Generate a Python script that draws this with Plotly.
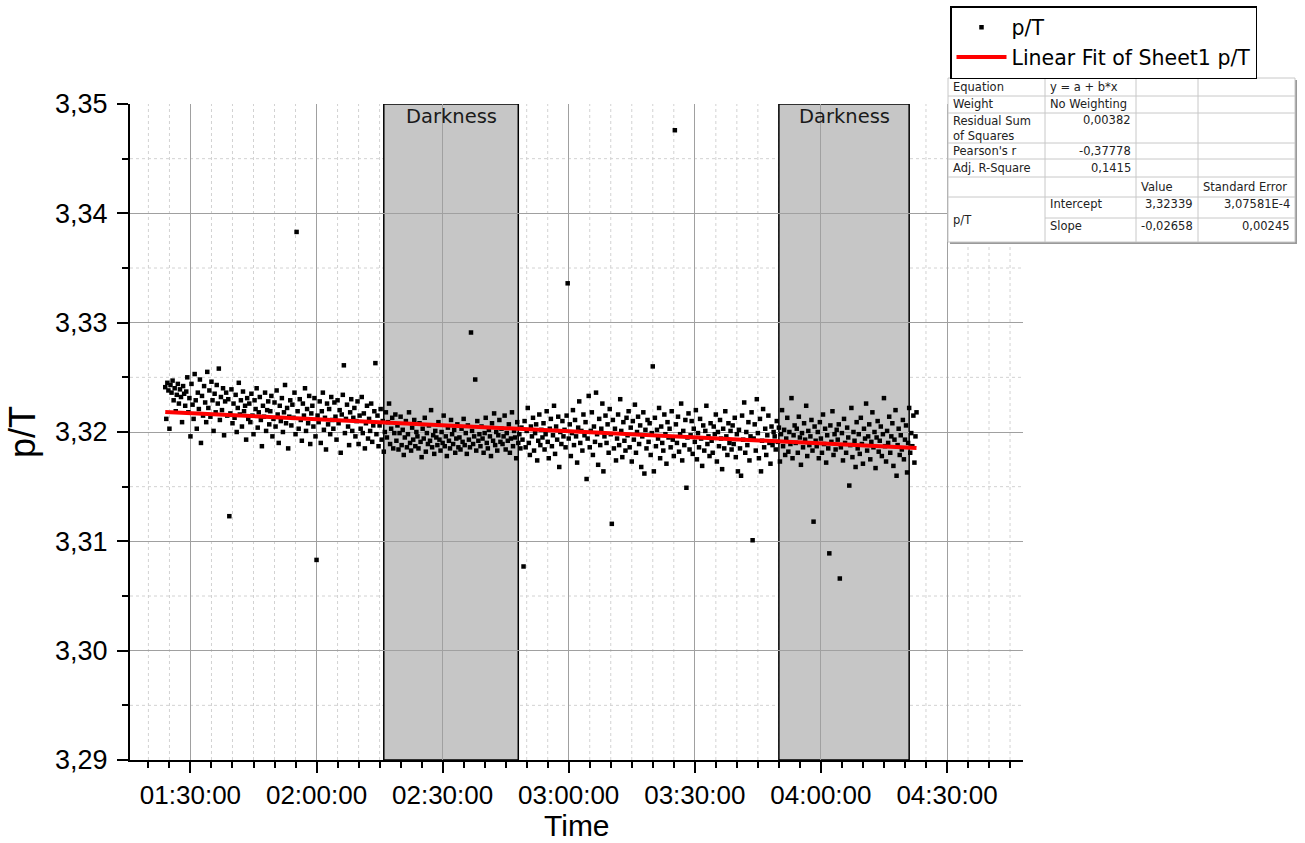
import pandas as pd
import plotly.graph_objects as go

# ---------------- data ----------------
START_TIME = "2000-01-01 01:24:00"
SAMPLE_INTERVAL = "15s"

p_over_T = [
    3.3241, 3.3212, 3.3245, 3.3238, 3.3203, 3.3243, 3.3236, 3.3247, 3.3229, 3.3240, 3.3219, 3.3234, 3.3244, 3.3226, 3.3239, 3.3232, 3.3209, 3.3242, 3.3235, 3.3224,
    3.3237, 3.3250, 3.3218, 3.3231, 3.3196, 3.3244, 3.3225, 3.3212, 3.3253, 3.3229, 3.3203, 3.3236, 3.3221, 3.3248, 3.3190, 3.3233, 3.3215, 3.3242, 3.3227, 3.3209,
    3.3255, 3.3222, 3.3238, 3.3214, 3.3246, 3.3229, 3.3201, 3.3235, 3.3218, 3.3243, 3.3226, 3.3258, 3.3211, 3.3232, 3.3220, 3.3240, 3.3197, 3.3228, 3.3236, 3.3215,
    3.3230, 3.3123, 3.3217, 3.3239, 3.3208, 3.3226, 3.3213, 3.3234, 3.3200, 3.3222, 3.3245, 3.3216, 3.3229, 3.3205, 3.3237, 3.3219, 3.3224, 3.3193, 3.3231, 3.3212,
    3.3226, 3.3209, 3.3235, 3.3215, 3.3198, 3.3229, 3.3221, 3.3240, 3.3204, 3.3218, 3.3232, 3.3211, 3.3187, 3.3224, 3.3214, 3.3236, 3.3201, 3.3220, 3.3228, 3.3207,
    3.3219, 3.3233, 3.3196, 3.3212, 3.3227, 3.3205, 3.3238, 3.3216, 3.3190, 3.3224, 3.3210, 3.3231, 3.3200, 3.3218, 3.3243, 3.3208, 3.3222, 3.3185, 3.3214, 3.3229,
    3.3206, 3.3225, 3.3213, 3.3236, 3.3198, 3.3383, 3.3219, 3.3203, 3.3230, 3.3211, 3.3192, 3.3226, 3.3215, 3.3240, 3.3201, 3.3221, 3.3208, 3.3233, 3.3189, 3.3217,
    3.3224, 3.3205, 3.3231, 3.3196, 3.3083, 3.3215, 3.3209, 3.3228, 3.3190, 3.3219, 3.3236, 3.3202, 3.3213, 3.3184, 3.3226, 3.3207, 3.3221, 3.3198, 3.3232, 3.3211,
    3.3203, 3.3227, 3.3214, 3.3193, 3.3229, 3.3208, 3.3220, 3.3181, 3.3216, 3.3234, 3.3261, 3.3199, 3.3212, 3.3225, 3.3205, 3.3188, 3.3218, 3.3230, 3.3201, 3.3213,
    3.3222, 3.3196, 3.3210, 3.3228, 3.3189, 3.3215, 3.3203, 3.3232, 3.3199, 3.3217, 3.3185, 3.3208, 3.3224, 3.3194, 3.3212, 3.3201, 3.3226, 3.3191, 3.3206, 3.3219,
    3.3263, 3.3198, 3.3215, 3.3187, 3.3206, 3.3221, 3.3193, 3.3210, 3.3182, 3.3200, 3.3218, 3.3195, 3.3209, 3.3226, 3.3189, 3.3203, 3.3213, 3.3185, 3.3199, 3.3216,
    3.3192, 3.3206, 3.3184, 3.3199, 3.3214, 3.3188, 3.3202, 3.3179, 3.3195, 3.3210, 3.3186, 3.3198, 3.3218, 3.3190, 3.3183, 3.3204, 3.3193, 3.3211, 3.3187, 3.3200,
    3.3196, 3.3185, 3.3208, 3.3191, 3.3177, 3.3203, 3.3194, 3.3213, 3.3182, 3.3199, 3.3189, 3.3206, 3.3192, 3.3220, 3.3186, 3.3197, 3.3180, 3.3201, 3.3195, 3.3188,
    3.3209, 3.3193, 3.3183, 3.3200, 3.3190, 3.3215, 3.3187, 3.3196, 3.3178, 3.3204, 3.3192, 3.3185, 3.3211, 3.3198, 3.3189, 3.3202, 3.3181, 3.3194, 3.3207, 3.3186,
    3.3195, 3.3184, 3.3203, 3.3191, 3.3212, 3.3188, 3.3199, 3.3180, 3.3206, 3.3193, 3.3186, 3.3291, 3.3201, 3.3189, 3.3196, 3.3248, 3.3183, 3.3210, 3.3192, 3.3198,
    3.3187, 3.3205, 3.3194, 3.3181, 3.3199, 3.3213, 3.3190, 3.3185, 3.3202, 3.3196, 3.3178, 3.3208, 3.3192, 3.3217, 3.3188, 3.3200, 3.3183, 3.3197, 3.3211, 3.3191,
    3.3203, 3.3189, 3.3196, 3.3215, 3.3184, 3.3199, 3.3192, 3.3207, 3.3181, 3.3194, 3.3218, 3.3187, 3.3201, 3.3195, 3.3176, 3.3209, 3.3190, 3.3198, 3.3185, 3.3204,
    3.3193, 3.3077, 3.3210, 3.3186, 3.3201, 3.3222, 3.3190, 3.3179, 3.3205, 3.3196, 3.3213, 3.3183, 3.3199, 3.3207, 3.3174, 3.3192, 3.3216, 3.3188, 3.3202, 3.3195,
    3.3208, 3.3184, 3.3198, 3.3219, 3.3191, 3.3176, 3.3203, 3.3212, 3.3187, 3.3197, 3.3224, 3.3180, 3.3205, 3.3193, 3.3214, 3.3168, 3.3200, 3.3189, 3.3210, 3.3196,
    3.3202, 3.3186, 3.3215, 3.3336, 3.3194, 3.3207, 3.3178, 3.3199, 3.3220, 3.3188, 3.3211, 3.3196, 3.3172, 3.3204, 3.3228, 3.3190, 3.3201, 3.3183, 3.3216, 3.3197,
    3.3209, 3.3157, 3.3194, 3.3233, 3.3186, 3.3201, 3.3218, 3.3179, 3.3205, 3.3191, 3.3236, 3.3198, 3.3170, 3.3212, 3.3188, 3.3203, 3.3226, 3.3164, 3.3196, 3.3215,
    3.3190, 3.3207, 3.3181, 3.3221, 3.3198, 3.3116, 3.3211, 3.3185, 3.3203, 3.3174, 3.3194, 3.3216, 3.3188, 3.3230, 3.3201, 3.3177, 3.3209, 3.3192, 3.3183, 3.3213,
    3.3197, 3.3219, 3.3186, 3.3204, 3.3173, 3.3210, 3.3193, 3.3225, 3.3181, 3.3200, 3.3214, 3.3189, 3.3206, 3.3168, 3.3196, 3.3218, 3.3162, 3.3202, 3.3185, 3.3211,
    3.3191, 3.3208, 3.3179, 3.3199, 3.3260, 3.3164, 3.3213, 3.3187, 3.3202, 3.3194, 3.3222, 3.3176, 3.3205, 3.3190, 3.3183, 3.3216, 3.3198, 3.3171, 3.3209, 3.3195,
    3.3203, 3.3186, 3.3219, 3.3193, 3.3178, 3.3476, 3.3207, 3.3190, 3.3214, 3.3182, 3.3198, 3.3226, 3.3174, 3.3201, 3.3188, 3.3211, 3.3149, 3.3195, 3.3217, 3.3184,
    3.3197, 3.3210, 3.3180, 3.3203, 3.3191, 3.3220, 3.3175, 3.3199, 3.3186, 3.3212, 3.3194, 3.3169, 3.3206, 3.3183, 3.3201, 3.3224, 3.3189, 3.3196, 3.3178, 3.3208,
    3.3192, 3.3181, 3.3205, 3.3198, 3.3216, 3.3173, 3.3200, 3.3187, 3.3211, 3.3194, 3.3166, 3.3203, 3.3185, 3.3219, 3.3196, 3.3179, 3.3208, 3.3190, 3.3201, 3.3184,
    3.3206, 3.3189, 3.3213, 3.3177, 3.3198, 3.3164, 3.3202, 3.3185, 3.3160, 3.3215, 3.3193, 3.3227, 3.3181, 3.3200, 3.3188, 3.3209, 3.3174, 3.3196, 3.3218, 3.3101,
    3.3194, 3.3207, 3.3183, 3.3230, 3.3199, 3.3176, 3.3212, 3.3164, 3.3192, 3.3221, 3.3186, 3.3203, 3.3179, 3.3197, 3.3215, 3.3190, 3.3171, 3.3205, 3.3188, 3.3200,
    3.3196, 3.3184, 3.3210, 3.3191, 3.3204, 3.3173, 3.3198, 3.3220, 3.3187, 3.3202, 3.3179, 3.3194, 3.3213, 3.3182, 3.3200, 3.3189, 3.3231, 3.3176, 3.3197, 3.3206,
    3.3190, 3.3203, 3.3181, 3.3214, 3.3195, 3.3170, 3.3199, 3.3186, 3.3208, 3.3193, 3.3224, 3.3178, 3.3201, 3.3188, 3.3196, 3.3211, 3.3183, 3.3118, 3.3205, 3.3192,
    3.3187, 3.3200, 3.3176, 3.3209, 3.3194, 3.3181, 3.3216, 3.3189, 3.3203, 3.3172, 3.3197, 3.3185, 3.3089, 3.3206, 3.3191, 3.3219, 3.3179, 3.3198, 3.3184, 3.3202,
    3.3193, 3.3207, 3.3066, 3.3186, 3.3199, 3.3174, 3.3212, 3.3190, 3.3181, 3.3204, 3.3195, 3.3151, 3.3188, 3.3222, 3.3177, 3.3200, 3.3192, 3.3168, 3.3209, 3.3185,
    3.3198, 3.3180, 3.3213, 3.3189, 3.3171, 3.3203, 3.3194, 3.3226, 3.3183, 3.3196, 3.3207, 3.3175, 3.3191, 3.3218, 3.3186, 3.3200, 3.3167, 3.3195, 3.3210, 3.3182,
    3.3192, 3.3205, 3.3178, 3.3198, 3.3231, 3.3187, 3.3173, 3.3201, 3.3190, 3.3214, 3.3181, 3.3196, 3.3208, 3.3169, 3.3193, 3.3220, 3.3160, 3.3188, 3.3203, 3.3179,
    3.3197, 3.3184, 3.3211, 3.3175, 3.3193, 3.3206, 3.3163, 3.3190, 3.3222, 3.3181, 3.3199, 3.3187, 3.3215, 3.3172, 3.3196, 3.3218,
]

# linear fit results (time in days)
FIT_INTERCEPT = 3.32339
FIT_SLOPE = -0.02658

darkness_starts = ["2000-01-01 02:16:00", "2000-01-01 03:50:00"]
darkness_ends = ["2000-01-01 02:48:00", "2000-01-01 04:21:00"]
darkness_label = "Darkness"

x_range = ["2000-01-01 01:15:37", "2000-01-01 04:48:05"]
y_range = [3.29, 3.35]
x_title = "Time"
y_title = "p/T"

table_rows = [
    ["Equation", "y = a + b*x", "", ""],
    ["Weight", "No Weighting", "", ""],
    ["Residual Sum<br>of Squares", "0,00382", "", ""],
    ["Pearson's r", "-0,37778", "", ""],
    ["Adj. R-Square", "0,1415", "", ""],
    ["", "", "Value", "Standard Error"],
    ["p/T", "Intercept", "3,32339", "3,07581E-4"],
    ["", "Slope", "-0,02658", "0,00245"],
]

# ---------------- figure ----------------
times = pd.date_range(start=START_TIME, periods=len(p_over_T), freq=SAMPLE_INTERVAL)
midnight = times[0].normalize()
fit_x = [times[0], times[-1]]
fit_y = [FIT_INTERCEPT + FIT_SLOPE * ((t - midnight).total_seconds() / 86400.0) for t in fit_x]

W, H = 1305, 843
PL, PR, PT, PB = 130, 1023, 104, 760


def px(x):
    return (x - PL) / (PR - PL)


def py(y):
    return (PB - y) / (PB - PT)


fig = go.Figure()
fig.add_trace(go.Scatter(
    x=times, y=p_over_T, mode="markers", name="p/T",
    marker=dict(symbol="square", size=4.5, color="black", line=dict(width=0)),
))
fig.add_trace(go.Scatter(
    x=fit_x, y=fit_y, mode="lines", name="Linear Fit of Sheet1 p/T",
    line=dict(color="#ff0000", width=4),
))

shapes = []
# minor (dashed) grid lines, drawn below the darkness boxes
x0 = pd.Timestamp(x_range[0])
x1 = pd.Timestamp(x_range[1])
t = x0.ceil("5min")
while t <= x1:
    if t.minute % 30 != 0:
        shapes.append(dict(type="line", xref="x", yref="paper", x0=t, x1=t, y0=0, y1=1,
                           line=dict(color="#d2d2d2", width=1, dash="3px,3px"), layer="below"))
    t += pd.Timedelta(minutes=5)
for k in range(6):
    yv = y_range[0] + 0.005 + 0.01 * k
    shapes.append(dict(type="line", xref="paper", yref="y", x0=0, x1=1, y0=yv, y1=yv,
                       line=dict(color="#d2d2d2", width=1, dash="3px,3px"), layer="below"))

annotations = []
for s, e in zip(darkness_starts, darkness_ends):
    shapes.append(dict(type="rect", xref="x", yref="y", x0=s, x1=e, y0=y_range[0], y1=y_range[1],
                       fillcolor="#c6c6c6", line=dict(color="black", width=1.5), layer="below"))
    mid = pd.Timestamp(s) + (pd.Timestamp(e) - pd.Timestamp(s)) / 2
    annotations.append(dict(x=mid, y=py(116), xref="x", yref="paper", text=darkness_label,
                            showarrow=False, xanchor="center", yanchor="middle",
                            font=dict(family="DejaVu Sans", size=19.5, color="#1a1a1a")))

# x-axis title, placed as in the original
annotations.append(dict(x=0.5, y=py(843), xref="paper", yref="paper", text=x_title,
                        showarrow=False, xanchor="center", yanchor="bottom", borderpad=0,
                        font=dict(family="Liberation Sans, Arial, sans-serif", size=30, color="black")))

# fit results table
cols = [948, 1045, 1136, 1198, 1295]
rows = [78, 96, 113, 143, 159, 177, 197, 218, 242]
TC = "#c8c8c8"
shapes.append(dict(type="rect", xref="paper", yref="paper", x0=px(cols[0] + 2), x1=px(cols[-1] + 2),
                   y0=py(rows[-1] + 2), y1=py(rows[0] + 2), fillcolor="#9a9a9a", line=dict(width=0)))
shapes.append(dict(type="rect", xref="paper", yref="paper", x0=px(cols[0]), x1=px(cols[-1]),
                   y0=py(rows[-1]), y1=py(rows[0]), fillcolor="white", line=dict(color=TC, width=1)))
for r in rows[1:-1]:
    xs = cols[1] if r == 218 else cols[0]
    shapes.append(dict(type="line", xref="paper", yref="paper", x0=px(xs), x1=px(cols[-1]),
                       y0=py(r), y1=py(r), line=dict(color=TC, width=1)))
for c in cols[1:-1]:
    shapes.append(dict(type="line", xref="paper", yref="paper", x0=px(c), x1=px(c),
                       y0=py(rows[0]), y1=py(rows[-1]), line=dict(color=TC, width=1)))

tfont = dict(family="DejaVu Sans", size=11.5, color="#222222")
row_y = [87, 104.5, 120, 151, 168, 186.5, 207.5, 229.5]
for ri, row in enumerate(table_rows):
    for ci, txt in enumerate(row):
        if not txt:
            continue
        yc = row_y[ri]
        if ri == 2 and ci == 0:
            yc = 128
        if ri == 6 and ci == 0:
            yc = 220
        if ri == 6 and ci > 0:
            yc = 204
        if ri == 7:
            yc = 226
        numeric = (ci == 1 and ri in (2, 3, 4)) or (ci >= 2 and ri >= 6)
        if numeric:
            xa, xx = "right", cols[ci + 1] - 3
        else:
            xa, xx = "left", cols[ci] + 3
        annotations.append(dict(x=px(xx), y=py(yc), xref="paper", yref="paper", text=txt,
                                showarrow=False, xanchor=xa, yanchor="middle", align="left",
                                font=tfont))

axis_font = dict(family="Liberation Sans, Arial, sans-serif", size=27, color="black")
fig.update_layout(
    width=W, height=H,
    margin=dict(l=PL, r=W - PR, t=PT, b=H - PB, pad=0, autoexpand=False),
    paper_bgcolor="white", plot_bgcolor="white",
    separators=", ",
    showlegend=True,
    legend=dict(x=px(950), y=py(6), xanchor="left", yanchor="top",
                bordercolor="black", borderwidth=1.5, bgcolor="white",
                font=dict(family="DejaVu Sans", size=20.5, color="black"),
                tracegroupgap=0, itemwidth=50),
    shapes=shapes,
    annotations=annotations,
)
fig.update_xaxes(
    type="date", range=x_range, automargin=False,
    tickformat="%H:%M:%S", dtick=1800000, tick0="2000-01-01 00:00:00",
    showline=True, linecolor="black", linewidth=2,
    ticks="outside", ticklen=11, tickwidth=2, tickcolor="black",
    tickfont=dict(family="Liberation Sans, Arial, sans-serif", size=26, color="black"),
    ticklabelstandoff=0,
    showgrid=True, gridcolor="#a0a0a0", gridwidth=1,
    zeroline=False, mirror=False,
    minor=dict(dtick=300000, tick0="2000-01-01 00:00:00", ticks="outside", ticklen=6,
               tickwidth=1.5, tickcolor="black", showgrid=False),
)
fig.update_yaxes(
    range=y_range, dtick=0.01, tick0=3.29, tickformat=".2f", automargin=False,
    showline=True, linecolor="black", linewidth=2,
    ticks="outside", ticklen=11, tickwidth=2, tickcolor="black",
    tickfont=axis_font, ticklabelstandoff=4,
    showgrid=True, gridcolor="#a0a0a0", gridwidth=1,
    zeroline=False, mirror=False,
    minor=dict(dtick=0.005, ticks="outside", ticklen=6, tickwidth=1.5, tickcolor="black", showgrid=False),
    title=dict(text=y_title, font=dict(family="Liberation Sans, Arial, sans-serif", size=36, color="black"),
               standoff=8),
)

fig.write_html("out.html", config={"displayModeBar": False},
               post_script="document.body.style.margin='0';document.body.style.overflow='hidden';")
